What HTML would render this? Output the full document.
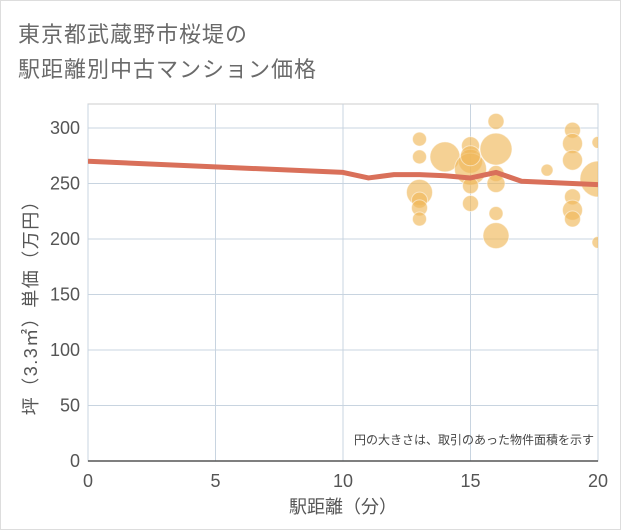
<!DOCTYPE html>
<html><head><meta charset="utf-8"><style>
body{margin:0;background:#fff;}
#wrap{position:relative;width:621px;height:530px;border:1px solid #ddd;box-sizing:border-box;background:#fff;font-family:"Liberation Sans","Noto Sans CJK JP",sans-serif;}
.title{position:absolute;left:17px;font-size:22px;color:#6a6a6a;letter-spacing:1px;}
</style></head><body>
<div id="wrap">
<div class="title" style="top:16px">東京都武蔵野市桜堤の</div>
<div class="title" style="top:51px">駅距離別中古マンション価格</div>
<svg id="chart" width="621" height="530" style="position:absolute;left:0;top:0"></svg>
</div>
<script>
const xTicks=[0,5,10,15,20];
const yTicks=[0,50,100,150,200,250,300];
const lineX=[0,10,11,12,13,14,15,16,17,18,19,20];
const lineY=[270,260,255,258,258,257,255,260,252,251,250,249];
const bubX=[13,13,13,13,13,13,14,15,15,15,15,15,15,16,16,16,16,16,16,18,19,19,19,19,19,19,20,20,20];
const bubY=[290,274,242,235,228,218,274,284,270,263,248,232,275,306,281,259,250,223,203,262,298,286,271,238,226,218,287,254,197];
const bubR=[7,7,13,8,8,7,15,9,12,16,8,8,10,8,16,8,9,7,13,6,8,10,10,8,10,8,6,18,6];
const svg=document.getElementById('chart');
const NS='http://www.w3.org/2000/svg';
const L=87,R=597,T=103,B=460;
const xs=v=>L+(v-0)/20*(R-L);
const ys=v=>B-v*1.11;
function mk(tag,attrs,parent){const e=document.createElementNS(NS,tag);for(const k in attrs)e.setAttribute(k,attrs[k]);(parent||svg).appendChild(e);return e;}
const clip=mk('clipPath',{id:'pc'});mk('rect',{x:L,y:T,width:R-L,height:B-T},clip);
const frame=mk('rect',{x:L,y:T,width:R-L,height:B-T,fill:'none',stroke:'#ccc'});


xTicks.forEach(t=>{
 const g=mk('line',{x1:xs(t),x2:xs(t),y1:T,y2:B,stroke:'#c8d4e0'});
 
 
 const tx=mk('text',{x:xs(t),y:486,'text-anchor':'middle','font-size':18,fill:'#555'});tx.textContent=t;
 
 
});
yTicks.forEach(t=>{
 const g=mk('line',{x1:L,x2:R,y1:ys(t),y2:ys(t),stroke:'#c8d4e0'});
 
 
 const tx=mk('text',{x:79,y:ys(t)+6,'text-anchor':'end','font-size':18,fill:'#555'});tx.textContent=t;
 
 
});
const ax=mk('line',{x1:L,x2:R,y1:B,y2:B,stroke:'#555','stroke-width':1.5});


const gb=mk('g',{'clip-path':'url(#pc)'});
bubX.forEach((x,i)=>{
 const c=mk('circle',{cx:xs(x),cy:ys(bubY[i]),r:bubR[i],fill:'rgba(240,185,90,0.65)',stroke:'rgba(255,255,255,0.5)','stroke-width':1},gb);
 
 
});
const pl=mk('polyline',{points:lineX.map((x,i)=>xs(x)+','+ys(lineY[i])).join(' '),fill:'none',stroke:'#d9705a','stroke-width':5,'stroke-linejoin':'round','clip-path':'url(#pc)'});


const note=mk('text',{x:593,y:443,'text-anchor':'end','font-size':12,fill:'#444','font-family':'Liberation Sans, Noto Sans CJK JP, sans-serif'});note.textContent='円の大きさは、取引のあった物件面積を示す';


const xt=mk('text',{x:342,y:512,'text-anchor':'middle','font-size':18,fill:'#555','font-family':'Liberation Sans, Noto Sans CJK JP, sans-serif'});xt.textContent='駅距離（分）';


const yt=mk('text',{x:0,y:0,'text-anchor':'middle','font-size':18,'letter-spacing':'1.5',fill:'#555',transform:'translate(36,302) rotate(-90)','font-family':'Liberation Sans, Noto Sans CJK JP, sans-serif'});yt.textContent='坪（3.3㎡）単価（万円）';


</script>
</body></html>
